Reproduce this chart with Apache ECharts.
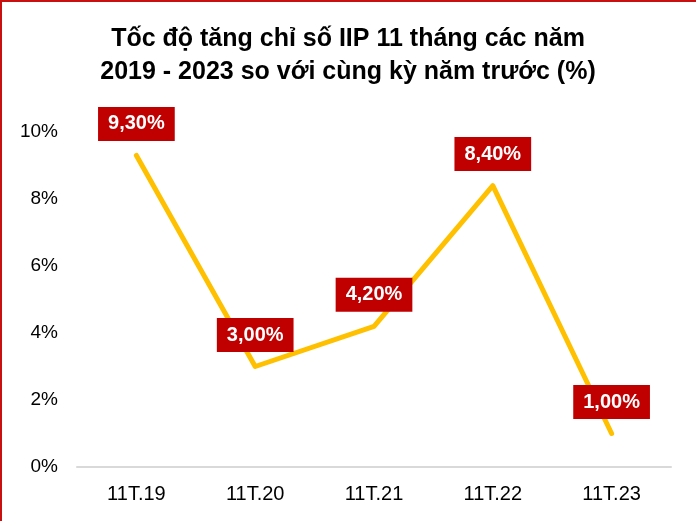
<!DOCTYPE html>
<html>
<head>
<meta charset="utf-8">
<script src="https://cdn.jsdelivr.net/npm/echarts@6/dist/echarts.min.js"></script>
<style>
  html, body { margin: 0; padding: 0; background: #fff; }
  #chart { position: absolute; left: 0; top: 0; width: 696px; height: 521px; }
  #frame {
    position: absolute; left: 0; top: 0; width: 696px; height: 521px;
    box-sizing: border-box; border-top: 2px solid #c81010; border-left: 2px solid #c81010;
    pointer-events: none;
  }
</style>
</head>
<body>
<div id="chart"></div>
<div id="frame"></div>
<script>
const titleLines = ['Tốc độ tăng chỉ số IIP 11 tháng các năm', '2019 - 2023 so với cùng kỳ năm trước (%)']
const periods = ['11T.19', '11T.20', '11T.21', '11T.22', '11T.23']
const growth = [9.3, 3.0, 4.2, 8.4, 1.0]

const chart = echarts.init(document.getElementById('chart'))

const option = {
  animation: false,
  title: {
    text: titleLines.join('\n'),
    left: 'center',
    top: 18,
    textStyle: {
      fontFamily: 'Liberation Sans',
      fontWeight: 'bold',
      fontSize: 25,
      lineHeight: 33,
      color: '#000'
    }
  },
  grid: {
    left: 77,
    right: 25,
    top: 132,
    bottom: 54
  },
  xAxis: {
    type: 'category',
    data: periods,
    boundaryGap: true,
    axisLine: { lineStyle: { color: '#d9d9d9', width: 2 } },
    axisTick: { show: false },
    axisLabel: {
      fontFamily: 'Liberation Sans',
      fontSize: 20,
      color: '#000',
      margin: 17
    }
  },
  yAxis: {
    type: 'value',
    min: 0,
    max: 10,
    interval: 2,
    splitLine: { show: false },
    axisLine: { show: false },
    axisTick: { show: false },
    axisLabel: {
      fontFamily: 'Liberation Sans',
      fontSize: 19,
      color: '#000',
      margin: 19,
      formatter: (v) => v + '%'
    }
  },
  series: [
    {
      name: 'IIP',
      type: 'line',
      data: growth,
      symbol: 'circle',
      symbolSize: 1,
      showSymbol: true,
      itemStyle: { color: 'rgba(0,0,0,0)' },
      lineStyle: { color: '#ffc000', width: 5, cap: 'round', join: 'round' },
      label: {
        show: true,
        position: 'top',
        distance: 14,
        formatter: ({ value }) => value.toFixed(2).replace('.', ',') + '%',
        backgroundColor: '#c00000',
        color: '#fff',
        fontFamily: 'Liberation Sans',
        fontWeight: 'bold',
        fontSize: 20,
        lineHeight: 20,
        padding: [7, 10]
      }
    }
  ]
}

chart.setOption(option)
</script>
</body>
</html>
